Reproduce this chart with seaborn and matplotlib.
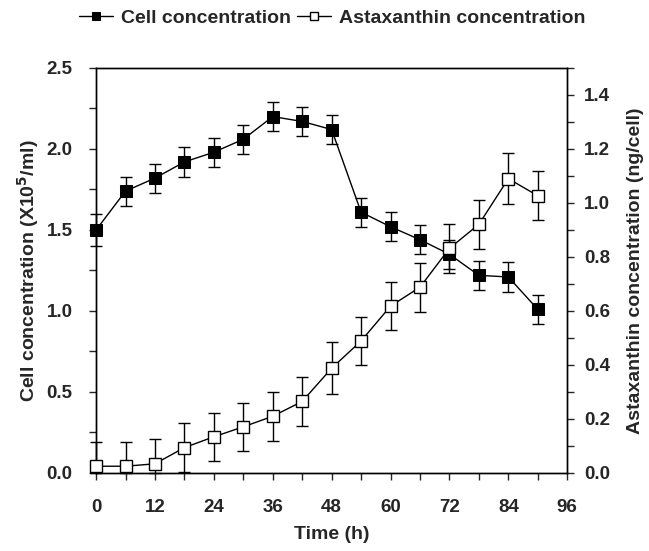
import matplotlib
matplotlib.use("Agg")
import matplotlib.pyplot as plt
import seaborn as sns
import pandas as pd
import numpy as np
from matplotlib.ticker import MultipleLocator, FormatStrFormatter

# data
time_h = [0, 6, 12, 18, 24, 30, 36, 42, 48, 54, 60, 66, 72, 78, 84, 90]
cell_conc = [1.50, 1.74, 1.82, 1.92, 1.98, 2.06, 2.20, 2.17, 2.12, 1.61, 1.52, 1.44, 1.35, 1.22, 1.21, 1.01]
cell_err = [0.10, 0.09, 0.09, 0.09, 0.09, 0.09, 0.09, 0.09, 0.09, 0.09, 0.09, 0.09, 0.09, 0.09, 0.09, 0.09]
asta_conc = [0.025, 0.025, 0.034, 0.094, 0.134, 0.171, 0.21, 0.265, 0.388, 0.489, 0.618, 0.688, 0.832, 0.921, 1.09, 1.027]
asta_err = [0.09, 0.09, 0.09, 0.09, 0.09, 0.09, 0.09, 0.09, 0.096, 0.09, 0.09, 0.09, 0.09, 0.09, 0.094, 0.09]

df = pd.DataFrame({"time": time_h, "cell": cell_conc, "asta": asta_conc})
# lower error bars stop at the axis
asta_lo = np.minimum(asta_err, asta_conc)

sns.set_style("ticks")
plt.rcParams['font.family'] = ['Liberation Sans', 'DejaVu Sans']
plt.rcParams['font.weight'] = 'bold'
plt.rcParams['mathtext.default'] = 'bf'

fig = plt.figure(figsize=(6.49, 5.51), dpi=100)
ax = fig.add_axes([0.148, 0.1416, 0.726, 0.735])
ax2 = ax.twinx()

ax.errorbar(time_h, cell_conc, yerr=cell_err, fmt='none', ecolor='black',
            elinewidth=1, capsize=4, capthick=1, zorder=2, clip_on=False)
sns.lineplot(data=df, x="time", y="cell", ax=ax, color='black', lw=1,
             marker='s', markersize=8, markerfacecolor='black',
             markeredgecolor='black', label='Cell concentration', legend=False,
             zorder=3, clip_on=False)

ax2.errorbar(time_h, asta_conc, yerr=[asta_lo, asta_err], fmt='none', ecolor='black',
             elinewidth=1, capsize=4, capthick=1, zorder=2, clip_on=False)
sns.lineplot(data=df, x="time", y="asta", ax=ax2, color='black', lw=1,
             marker='s', markersize=8, markerfacecolor='white',
             markeredgecolor='black', markeredgewidth=1,
             label='Astaxanthin concentration', legend=False, zorder=3, clip_on=False)

ax.set_xlim(0, 96)
ax.set_ylim(0, 2.5)
ax2.set_ylim(0, 1.5)
ax.xaxis.set_major_locator(MultipleLocator(12))
ax.xaxis.set_minor_locator(MultipleLocator(6))
ax.yaxis.set_major_locator(MultipleLocator(0.5))
ax.yaxis.set_minor_locator(MultipleLocator(0.25))
ax2.yaxis.set_major_locator(MultipleLocator(0.2))
ax2.yaxis.set_minor_locator(MultipleLocator(0.1))
ax.yaxis.set_major_formatter(FormatStrFormatter('%.1f'))
ax2.yaxis.set_major_formatter(FormatStrFormatter('%.1f'))

for a in (ax, ax2):
    a.tick_params(which='both', length=5, width=1, labelsize=13.5, direction='out')
    for s in a.spines.values():
        s.set_visible(True)
        s.set_linewidth(1)
        s.set_color('black')
ax.tick_params(axis='y', which='major', pad=12)
ax.tick_params(axis='x', which='major', pad=14)
ax2.tick_params(axis='y', which='major', pad=7)

ax.set_xlabel('Time (h)', fontsize=14, fontweight='bold')
ax.set_ylabel('Cell concentration (X10$^{5}$/ml)', fontsize=14, fontweight='bold')
ax2.set_ylabel('Astaxanthin concentration (ng/cell)', fontsize=14, fontweight='bold')
ax.xaxis.label.set_va('center')
ax.yaxis.label.set_va('center')
ax2.yaxis.label.set_va('center')
ax.xaxis.set_label_coords(0.5, -0.153)
ax.yaxis.set_label_coords(-0.144, 0.5)
ax2.yaxis.set_label_coords(1.144, 0.5)

h1, l1 = ax.get_legend_handles_labels()
h2, l2 = ax2.get_legend_handles_labels()
fig.legend(h1 + h2, l1 + l2, loc='center', bbox_to_anchor=(0.512, 0.967), ncol=2,
           frameon=False, handlelength=1.75, columnspacing=0.3,
           handletextpad=0.4, markerscale=0.7, prop={'weight': 'bold', 'size': 14})

fig.savefig("out.png", dpi=100)
